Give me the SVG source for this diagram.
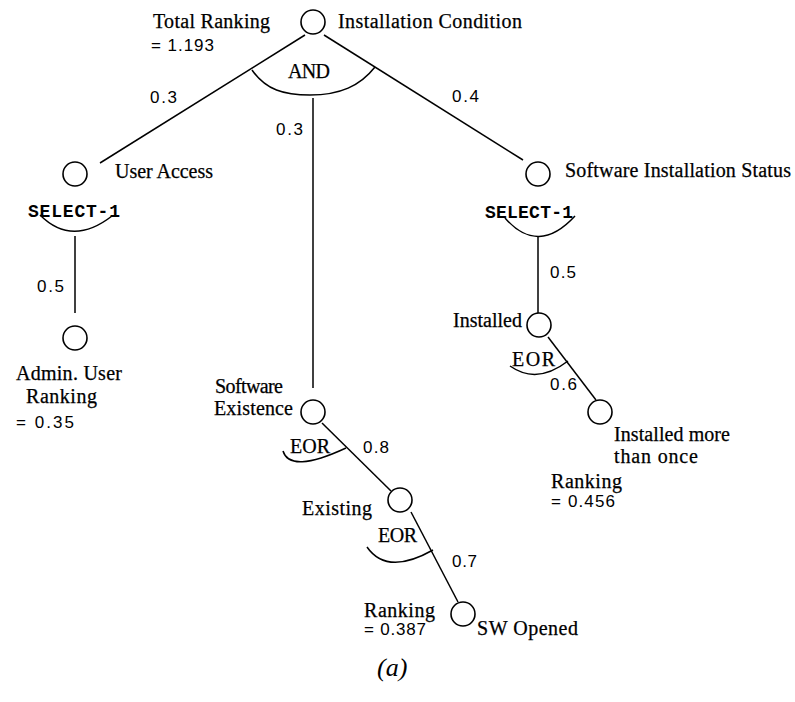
<svg xmlns="http://www.w3.org/2000/svg" width="795" height="702" viewBox="0 0 795 702">
  <style>
    .node { fill: none; stroke: #000; stroke-width: 1.6; }
    .edge { fill: none; stroke: #000; stroke-width: 1.5; }
    .gate { fill: none; stroke: #000; stroke-width: 1.5; }
    .lbl { font-family: "Liberation Serif", "Times New Roman", serif; font-size: 20px; fill: #000; stroke: #000; stroke-width: 0.25; }
    .num { font-family: "Liberation Sans", Arial, sans-serif; font-size: 17px; fill: #000; }
    .sel { font-family: "Liberation Mono", "Courier New", monospace; font-size: 18px; font-weight: bold; fill: #000; }
    .cap { font-family: "Liberation Serif", "Times New Roman", serif; font-size: 26px; font-style: italic; fill: #000; }
  </style>
  <rect width="795" height="702" fill="#fff"/>

  <!-- connectors and gate arcs -->
  <g id="connectors">
    <line class="edge" x1="305" y1="35" x2="100" y2="163"/>
    <line class="edge" x1="324" y1="35" x2="523" y2="160"/>
    <line class="edge" x1="313" y1="98" x2="313" y2="388"/>
    <path class="gate" d="M252,70 C266,90 284,95 310,95 C340,95 360,86 375,67"/>

    <path class="gate" d="M40,215 Q72,247 112,216"/>
    <line class="edge" x1="75" y1="236" x2="75" y2="313"/>

    <path class="gate" d="M505,218 Q538,256 575,216"/>
    <line class="edge" x1="538" y1="237" x2="538" y2="313"/>

    <line class="edge" x1="548" y1="337" x2="596" y2="400"/>
    <path class="gate" d="M510,366 Q537,385 568,361"/>

    <line class="edge" x1="322" y1="423" x2="391" y2="491"/>
    <path class="gate" d="M283,451 Q290,474 346,448"/>

    <line class="edge" x1="411" y1="512" x2="458" y2="602"/>
    <path class="gate" d="M367,547 Q387,576 433,550"/>
  </g>

  <!-- root: installation condition -->
  <g id="installation-condition">
    <circle class="node" cx="313" cy="22" r="12"/>
    <text class="lbl" x="338" y="28" textLength="184">Installation Condition</text>
    <text class="lbl" x="153" y="28" textLength="117">Total Ranking</text>
    <text class="num" x="151" y="51" textLength="63">= 1.193</text>
    <text class="lbl" x="288" y="78" textLength="42">AND</text>
    <text class="num" x="150" y="103" textLength="27">0.3</text>
    <text class="num" x="452" y="102" textLength="27">0.4</text>
    <text class="num" x="276" y="135" textLength="27">0.3</text>
  </g>

  <g id="user-access">
    <circle class="node" cx="75" cy="174" r="12"/>
    <text class="lbl" x="115" y="178" textLength="98">User Access</text>
    <text class="sel" x="28" y="217" textLength="92">SELECT-1</text>
    <text class="num" x="37" y="292" textLength="27">0.5</text>
  </g>

  <g id="admin-user">
    <circle class="node" cx="75" cy="338" r="12"/>
    <text class="lbl" x="16" y="380" textLength="106">Admin. User</text>
    <text class="lbl" x="26" y="403" textLength="71">Ranking</text>
    <text class="num" x="16" y="428" textLength="58">= 0.35</text>
  </g>

  <g id="software-installation-status">
    <circle class="node" cx="538" cy="174" r="12"/>
    <text class="lbl" x="565" y="177" textLength="226">Software Installation Status</text>
    <text class="sel" x="485" y="218" textLength="88">SELECT-1</text>
    <text class="num" x="550" y="278" textLength="26">0.5</text>
  </g>

  <g id="installed">
    <circle class="node" cx="539" cy="325" r="12"/>
    <text class="lbl" x="453" y="327" textLength="69">Installed</text>
    <text class="lbl" x="512" y="366" textLength="43">EOR</text>
    <text class="num" x="550" y="390" textLength="27">0.6</text>
  </g>

  <g id="installed-more-than-once">
    <circle class="node" cx="600" cy="412" r="12"/>
    <text class="lbl" x="614" y="441" textLength="116">Installed more</text>
    <text class="lbl" x="614" y="463" textLength="84">than once</text>
    <text class="lbl" x="551" y="488" textLength="71">Ranking</text>
    <text class="num" x="551" y="507" textLength="64">= 0.456</text>
  </g>

  <g id="software-existence">
    <circle class="node" cx="313" cy="412" r="12"/>
    <text class="lbl" x="215" y="393" textLength="68">Software</text>
    <text class="lbl" x="214" y="415" textLength="79">Existence</text>
    <text class="lbl" x="290" y="453" textLength="40">EOR</text>
    <text class="num" x="363" y="453" textLength="26">0.8</text>
  </g>

  <g id="existing">
    <circle class="node" cx="400" cy="500" r="12"/>
    <text class="lbl" x="302" y="515" textLength="70">Existing</text>
    <text class="lbl" x="378" y="542" textLength="39">EOR</text>
    <text class="num" x="452" y="567" textLength="25">0.7</text>
  </g>

  <g id="sw-opened">
    <circle class="node" cx="463" cy="614" r="12"/>
    <text class="lbl" x="364" y="617" textLength="71">Ranking</text>
    <text class="num" x="364" y="635" textLength="62">= 0.387</text>
    <text class="lbl" x="477" y="635" textLength="101">SW Opened</text>
  </g>

  <text class="cap" x="377" y="676">(a)</text>
</svg>
